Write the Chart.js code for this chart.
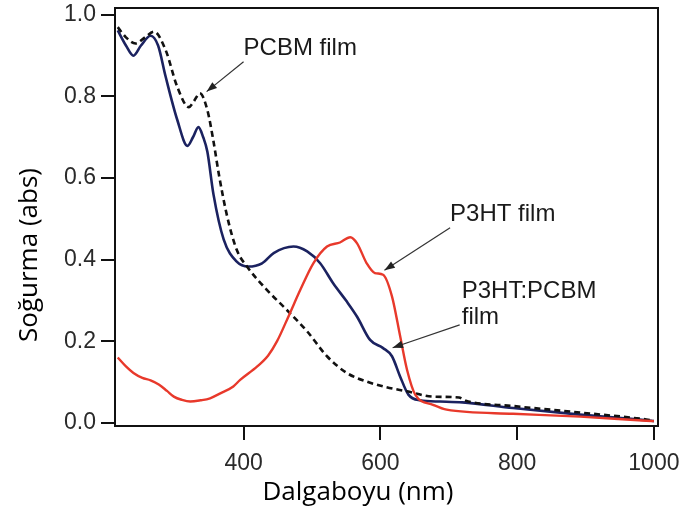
<!DOCTYPE html>
<html>
<head>
<meta charset="utf-8">
<script src="https://cdn.jsdelivr.net/npm/chart.js@4"></script>
<style>
  body { margin: 0; background: #fff; }
  #wrap { width: 685px; height: 512px; position: relative; }
</style>
</head>
<body>
<div id="wrap"><canvas id="absChart"></canvas></div>
<script>
  // wavelengths (nm) and absorbance
  var wlBlend = [216, 228, 239, 250, 264, 275, 286, 303, 318, 326, 334, 341, 347, 356, 371, 390, 407, 427, 444, 473, 493, 512, 531, 551, 566, 585, 604, 617, 629, 641, 658, 687, 720, 794, 892, 989, 1000]
  var absBlend = [0.962, 0.925, 0.90, 0.925, 0.949, 0.925, 0.849, 0.743, 0.679, 0.70, 0.725, 0.70, 0.665, 0.56, 0.449, 0.395, 0.383, 0.391, 0.416, 0.432, 0.42, 0.391, 0.342, 0.297, 0.26, 0.203, 0.183, 0.163, 0.113, 0.069, 0.055, 0.052, 0.05, 0.036, 0.02, 0.006, 0.004]

  var wlPcbm = [216, 228, 242, 256, 269, 286, 303, 320, 328, 336, 347, 356, 364, 376, 390, 405, 434, 463, 493, 522, 551, 580, 609, 639, 677, 715, 725, 794, 892, 989, 1000]
  var absPcbm = [0.97, 0.945, 0.93, 0.945, 0.959, 0.914, 0.824, 0.774, 0.79, 0.808, 0.767, 0.69, 0.608, 0.506, 0.424, 0.383, 0.326, 0.277, 0.224, 0.163, 0.122, 0.101, 0.087, 0.077, 0.064, 0.062, 0.054, 0.041, 0.025, 0.008, 0.005]

  var wlP3ht = [216, 228, 239, 252, 264, 276, 288, 298, 310, 322, 337, 351, 366, 385, 395, 420, 436, 449, 466, 483, 502, 522, 541, 556, 566, 580, 592, 604, 617, 629, 639, 651, 677, 697, 794, 892, 989, 1000]
  var absP3ht = [0.16, 0.138, 0.122, 0.11, 0.104, 0.094, 0.078, 0.064, 0.056, 0.052, 0.055, 0.06, 0.072, 0.089, 0.105, 0.138, 0.165, 0.2, 0.262, 0.326, 0.391, 0.432, 0.442, 0.455, 0.44, 0.391, 0.367, 0.363, 0.31, 0.212, 0.13, 0.069, 0.044, 0.032, 0.022, 0.015, 0.005, 0.004]

  var xTicks = [400, 600, 800, 1000]
  var yTicks = [0.0, 0.2, 0.4, 0.6, 0.8, 1.0]

  var xTitle = "Dalgaboyu (nm)"
  var yTitle = "Soğurma (abs)"

  function pts(xs, ys) {
    return xs.map(function(x, i) { return { x: x, y: ys[i] } })
  }

  // text labels + arrows, in data units
  var notes = [
    { text: ["PCBM film"], x: 400, y: 0.919, from: [400, 0.885], to: [346, 0.812] },
    { text: ["P3HT film"], x: 702, y: 0.51, from: [702, 0.478], to: [606, 0.374] },
    { text: ["P3HT:PCBM", "film"], x: 719, y: 0.321, from: [716, 0.24], to: [618, 0.184] }
  ]

  var notesPlugin = {
    id: 'notes',
    afterDatasetsDraw: function(chart) {
      var c = chart.ctx, xs = chart.scales.x, ys = chart.scales.y, a = chart.chartArea
      c.save()
      // frame top / right
      c.strokeStyle = '#111'
      c.lineWidth = 2
      c.beginPath()
      c.moveTo(a.left, a.top); c.lineTo(a.right, a.top); c.lineTo(a.right, a.bottom)
      c.stroke()

      c.font = '24px "Liberation Sans", Arial, sans-serif'
      c.fillStyle = '#1a1a1a'
      c.textBaseline = 'middle'
      c.textAlign = 'left'
      notes.forEach(function(n) {
        var px = xs.getPixelForValue(n.x), py = ys.getPixelForValue(n.y)
        n.text.forEach(function(t, i) { c.fillText(t, px, py + i * 26) })
        var x0 = xs.getPixelForValue(n.from[0]), y0 = ys.getPixelForValue(n.from[1])
        var x1 = xs.getPixelForValue(n.to[0]), y1 = ys.getPixelForValue(n.to[1])
        c.strokeStyle = '#333'
        c.lineWidth = 1.2
        c.beginPath(); c.moveTo(x0, y0); c.lineTo(x1, y1); c.stroke()
        var ang = Math.atan2(y1 - y0, x1 - x0)
        c.fillStyle = '#222'
        c.beginPath()
        c.moveTo(x1, y1)
        c.lineTo(x1 - 11 * Math.cos(ang - 0.35), y1 - 11 * Math.sin(ang - 0.35))
        c.lineTo(x1 - 11 * Math.cos(ang + 0.35), y1 - 11 * Math.sin(ang + 0.35))
        c.closePath(); c.fill()
        c.fillStyle = '#1a1a1a'
      })

      // axis titles
      c.fillStyle = '#000'
      c.font = '26px "Open Sans", sans-serif'
      c.textAlign = 'center'
      c.fillText(xTitle, 358, 493)
      c.translate(30, 255)
      c.rotate(-Math.PI / 2)
      c.fillText(yTitle, 0, 0)
      c.restore()
    }
  }

  var tickFont = { family: '"Liberation Sans", Arial, sans-serif', size: 23 }

  var chart = new Chart(document.getElementById('absChart').getContext('2d'), {
    type: 'line',
    data: {
      datasets: [
        { label: 'P3HT film', data: pts(wlP3ht, absP3ht), borderColor: '#e8392b', borderWidth: 2.4 },
        { label: 'PCBM film', data: pts(wlPcbm, absPcbm), borderColor: '#111', borderWidth: 2.6, borderDash: [6, 4] },
        { label: 'P3HT:PCBM film', data: pts(wlBlend, absBlend), borderColor: '#1b2260', borderWidth: 2.6 }
      ]
    },
    options: {
      responsive: true,
      maintainAspectRatio: false,
      animation: false,
      layout: { padding: { left: 0, top: 8, right: 27, bottom: 0 } },
      elements: { point: { radius: 0 }, line: { cubicInterpolationMode: 'monotone', fill: false } },
      plugins: { legend: { display: false }, tooltip: { enabled: false } },
      scales: {
        x: {
          type: 'linear', min: 212, max: 1006,
          afterBuildTicks: function(s) { s.ticks = xTicks.map(function(v) { return { value: v } }) },
          afterFit: function(s) { s.height = 86; s.paddingLeft = 0; s.paddingRight = 0 },
          grid: { drawOnChartArea: false, drawTicks: true, tickLength: 14, color: '#111', lineWidth: 2 },
          border: { display: true, color: '#111', width: 2 },
          ticks: { font: tickFont, color: '#2a2a2a', padding: 10, maxRotation: 0, callback: function(v) { return String(v) } }
        },
        y: {
          min: -0.008, max: 1.017,
          afterBuildTicks: function(s) { s.ticks = yTicks.map(function(v) { return { value: v } }) },
          afterFit: function(s) { s.width = 115; s.paddingTop = 0; s.paddingBottom = 0 },
          grid: { drawOnChartArea: false, drawTicks: true, tickLength: 14, color: '#111', lineWidth: 2 },
          border: { display: true, color: '#111', width: 2 },
          ticks: { font: tickFont, color: '#2a2a2a', padding: 5, callback: function(v) { return v.toFixed(1) } }
        }
      }
    },
    plugins: [notesPlugin]
  })
</script>
</body>
</html>
